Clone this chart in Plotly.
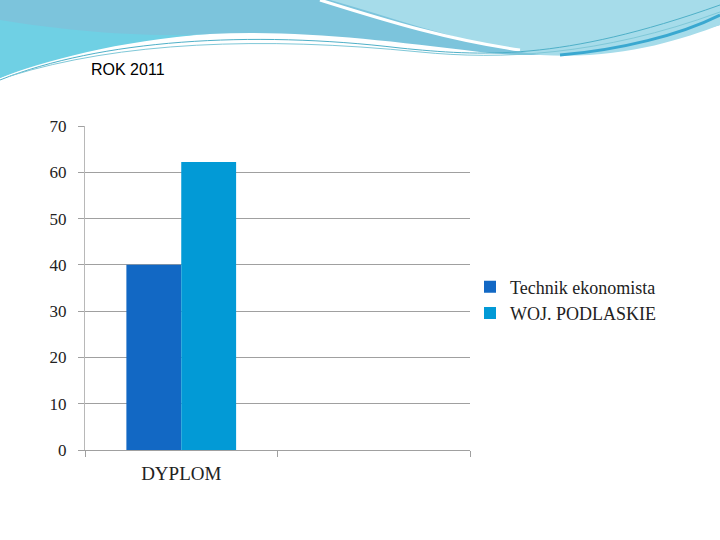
import plotly.graph_objects as go

categories = ["DYPLOM", " "]
series_names = ["Technik ekonomista", "WOJ. PODLASKIE"]
technik = [40, None]
podlaskie = [62.2, None]
y_ticks = [0, 10, 20, 30, 40, 50, 60, 70]

W, H = 720, 540
L, R, T, B = 85, 470, 126, 450

def px(x, y):
    return (x - L) / (R - L), (B - y) / (B - T)

def path(points_cmds):
    out = []
    for cmd, pts in points_cmds:
        coords = " ".join("%.4f,%.4f" % px(x, y) for x, y in pts)
        out.append(cmd + " " + coords if coords else cmd)
    return " ".join(out)

fig = go.Figure()
fig.add_trace(go.Bar(x=categories, y=technik, name=series_names[0],
                     marker=dict(color="#1268c4", line=dict(width=0))))
fig.add_trace(go.Bar(x=categories, y=podlaskie, name=series_names[1],
                     marker=dict(color="#029ad6", line=dict(width=0))))

shapes = []
shapes.append(dict(type="path", xref="paper", yref="paper", layer="below",
    path=path([("M", [(0, 0)]), ("L", [(720, 0)]), ("L", [(720, 25)]),
               ("C", [(650, 45), (560, 62), (480, 52)]),
               ("C", [(380, 40), (300, 30), (210, 34)]),
               ("C", [(120, 38), (40, 60), (0, 78)]), ("Z", [])]),
    fillcolor="#7cc4dc", line=dict(width=0)))
shapes.append(dict(type="path", xref="paper", yref="paper", layer="below",
    path=path([("M", [(0, 20)]), ("C", [(60, 30), (140, 38), (210, 34)]),
               ("C", [(120, 40), (40, 62), (0, 78)]), ("Z", [])]),
    fillcolor="#6fd0e4", line=dict(width=0)))
shapes.append(dict(type="path", xref="paper", yref="paper", layer="below",
    path=path([("M", [(330, 0)]), ("C", [(400, 20), (470, 45), (540, 55)]),
               ("C", [(620, 60), (680, 40), (720, 25)]), ("L", [(720, 0)]), ("Z", [])]),
    fillcolor="#a6dcea", line=dict(width=0)))
shapes.append(dict(type="path", xref="paper", yref="paper", layer="below",
    path=path([("M", [(320, 0)]), ("C", [(390, 22), (450, 40), (520, 50)])]),
    line=dict(color="white", width=3)))
shapes.append(dict(type="path", xref="paper", yref="paper", layer="below",
    path=path([("M", [(0, 80)]), ("C", [(100, 40), (250, 30), (400, 48)]),
               ("C", [(480, 56), (560, 62), (720, 5)])]),
    line=dict(color="#4fb0c8", width=1)))
shapes.append(dict(type="path", xref="paper", yref="paper", layer="below",
    path=path([("M", [(10, 76)]), ("C", [(120, 42), (260, 36), (420, 52)]),
               ("C", [(500, 60), (600, 56), (720, 12)])]),
    line=dict(color="#7fc8d8", width=1)))
shapes.append(dict(type="path", xref="paper", yref="paper", layer="below",
    path=path([("M", [(560, 55)]), ("C", [(620, 50), (680, 35), (720, 15)])]),
    line=dict(color="#3aa8d0", width=3)))

fig.update_layout(
    width=W, height=H,
    margin=dict(l=L, r=W - R, t=T, b=H - B, pad=0),
    paper_bgcolor="white", plot_bgcolor="white",
    barmode="group", bargap=0.43, bargroupgap=0,
    shapes=shapes,
    font=dict(family="Liberation Serif, DejaVu Serif, serif", color="#222222"),
    xaxis=dict(type="category", range=[-0.5, 1.5], showline=True, linecolor="#a0a0a0", linewidth=1,
               ticks="outside", tickson="boundaries", ticklen=6, tickcolor="#a0a0a0",
               ticklabelstandoff=6,
               tickfont=dict(size=19, color="#222222"), showgrid=False),
    yaxis=dict(range=[0, 70], tickvals=y_ticks, showline=True, linecolor="#b8b8b8", linewidth=1,
               ticks="outside", ticklen=6, tickcolor="#a0a0a0", ticklabelstandoff=8,
               showgrid=True, gridcolor="#a0a0a0", gridwidth=1, zeroline=False,
               tickfont=dict(size=17, color="#222222")),
    legend=dict(x=1.0, y=0.463, xanchor="left", yanchor="middle",
                font=dict(size=18, color="#222222"), bgcolor="rgba(0,0,0,0)",
                itemwidth=30),
    annotations=[dict(text="ROK 2011", x=px(89, 70)[0], y=px(89, 70)[1], xref="paper", yref="paper",
                      xanchor="left", yanchor="middle", showarrow=False,
                      font=dict(family="Liberation Sans, Arial, sans-serif", size=16, color="black"))],
)

fig.write_html("out.html", config={"displayModeBar": False},
               post_script="document.body.style.margin='0';")
